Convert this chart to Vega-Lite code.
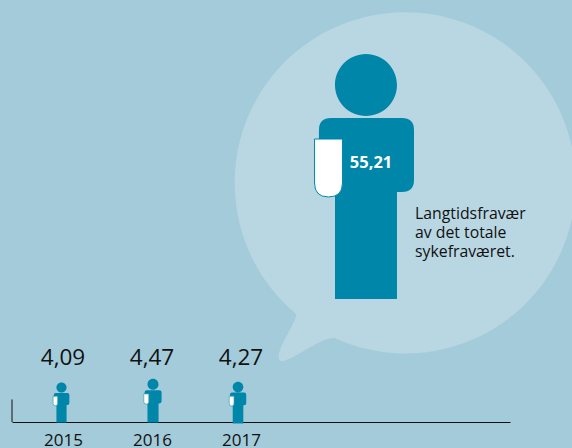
{
"$schema":"https://vega.github.io/schema/vega-lite/v6.json",
"width":498,"height":422,
"autosize":{"type":"none"},
"padding":{"left":12,"top":0,"right":62,"bottom":26},
"background":"#a3cbda",
"config":{"view":{"stroke":null},"font":"Open Sans"},
"datasets":{
"years":[{"year":2015,"value":4.09,"label":"4,09"},{"year":2016,"value":4.47,"label":"4,47"},{"year":2017,"value":4.27,"label":"4,27"}],
"total":[{"value":55.21,"label":"55,21","note":"Langtidsfravær\nav det totale\nsykefraværet."}]
},
"layer":[
{"data":{"name":"total"},
 "mark":{"type":"point","filled":true,"opacity":1,"strokeWidth":0,"color":"#b9d7e3","shape":"M-0.685,1.565 A1.705,1.705 0 1 0 -1.065,1.327 C-1.09,1.45 -1.24,1.63 -1.245,1.76 Q-1.24,1.81 -1.18,1.79 C-1.05,1.75 -0.82,1.56 -0.685,1.565 Z","size":40000},
 "encoding":{"x":{"datum":2018.82,"type":"quantitative","scale":{"domain":[2014.427,2020.022],"nice":false,"zero":false},"axis":{"values":[2015,2016,2017],"format":"d","title":null,"grid":false,"ticks":false,"domainColor":"#111111","domainWidth":1,"labelColor":"#111111","labelFontSize":17,"labelPadding":10,"labelFont":"Open Sans"}},
 "y":{"datum":24.54,"type":"quantitative","scale":{"domain":[0,43.06],"nice":false,"zero":false},"axis":null}}},
{"data":{"name":"total"},
 "mark":{"type":"rule","color":"#111111","strokeWidth":1},
 "encoding":{"x":{"datum":2014.427,"type":"quantitative"},"y":{"datum":0,"type":"quantitative","axis":null},"y2":{"datum":2.3}}},
{"data":{"name":"total"},
 "mark":{"type":"point","filled":true,"opacity":1,"strokeWidth":0,"color":"#0086a8","size":60025,
 "shape":"M-0.253,0 L-0.253,-0.873 L-0.384,-0.873 L-0.384,-1.380 Q-0.384,-1.478 -0.286,-1.478 L0.294,-1.478 Q0.392,-1.478 0.392,-1.380 L0.392,-0.971 Q0.392,-0.873 0.294,-0.873 L0.253,-0.873 L0.253,0 Z M-0.253,-1.747 A0.253,0.253 0 1 1 0.253,-1.747 A0.253,0.253 0 1 1 -0.253,-1.747 Z"},
 "encoding":{"x":{"datum":2018.404,"type":"quantitative"},"y":{"datum":12.55,"type":"quantitative","axis":null}}},
{"data":{"name":"total"},
 "mark":{"type":"point","filled":true,"opacity":1,"color":"#ffffff","stroke":"#0086a8","strokeWidth":1,"size":60025,
 "shape":"M-0.420,-1.306 L-0.192,-1.306 L-0.192,-0.947 Q-0.192,-0.833 -0.306,-0.833 Q-0.420,-0.833 -0.420,-0.947 Z"},
 "encoding":{"x":{"datum":2018.404,"type":"quantitative"},"y":{"datum":12.55,"type":"quantitative","axis":null}}},
{"data":{"name":"total"},
 "mark":{"type":"text","color":"#ffffff","fontSize":16.5,"fontWeight":"bold","font":"Open Sans","align":"center","baseline":"alphabetic"},
 "encoding":{"text":{"field":"label"},"x":{"datum":2018.461,"type":"quantitative"},"y":{"datum":25.95,"type":"quantitative","axis":null}}},
{"data":{"name":"total"},
 "mark":{"type":"text","color":"#111111","fontSize":15.8,"font":"Open Sans","align":"left","baseline":"alphabetic","lineBreak":"\n","lineHeight":19},
 "encoding":{"text":{"field":"note"},"x":{"datum":2018.955,"type":"quantitative"},"y":{"datum":20.68,"type":"quantitative","axis":null}}},
{"data":{"name":"years"},
 "mark":{"type":"point","filled":true,"opacity":1,"strokeWidth":0,"color":"#0086a8","xOffset":{"expr":"datum.year==2015?-1.5:datum.year==2016?1:-3"},"yOffset":{"expr":"datum.year==2017?1.5:0.5"},
 "shape":"M-0.253,0 L-0.253,-0.873 L-0.384,-0.873 L-0.384,-1.380 Q-0.384,-1.478 -0.286,-1.478 L0.294,-1.478 Q0.392,-1.478 0.392,-1.380 L0.392,-0.971 Q0.392,-0.873 0.294,-0.873 L0.253,-0.873 L0.253,0 Z M-0.253,-1.747 A0.253,0.253 0 1 1 0.253,-1.747 A0.253,0.253 0 1 1 -0.253,-1.747 Z"},
 "encoding":{"x":{"field":"year","type":"quantitative"},
 "y":{"datum":0,"type":"quantitative","axis":null},
 "size":{"field":"value","type":"quantitative","legend":null,"scale":{"type":"pow","exponent":2,"domain":[0,10],"range":[0,9604]}}}},
{"data":{"name":"years"},
 "mark":{"type":"point","filled":true,"opacity":1,"color":"#ffffff","stroke":"#3f9fb9","strokeWidth":0.7,"xOffset":{"expr":"datum.year==2015?-1.5:datum.year==2016?1:-3"},"yOffset":{"expr":"datum.year==2017?1.5:0.5"},
 "shape":"M-0.420,-1.306 L-0.192,-1.306 L-0.192,-0.947 Q-0.192,-0.833 -0.306,-0.833 Q-0.420,-0.833 -0.420,-0.947 Z"},
 "encoding":{"x":{"field":"year","type":"quantitative"},
 "y":{"datum":0,"type":"quantitative","axis":null},
 "size":{"field":"value","type":"quantitative","legend":null,"scale":{"type":"pow","exponent":2,"domain":[0,10],"range":[0,9604]}}}},
{"data":{"name":"years"},
 "mark":{"type":"text","color":"#111111","fontSize":22.5,"font":"Open Sans","align":"center","baseline":"alphabetic"},
 "encoding":{"text":{"field":"label"},"x":{"field":"year","type":"quantitative"},"y":{"datum":5.82,"type":"quantitative","axis":null}}}
]
}
